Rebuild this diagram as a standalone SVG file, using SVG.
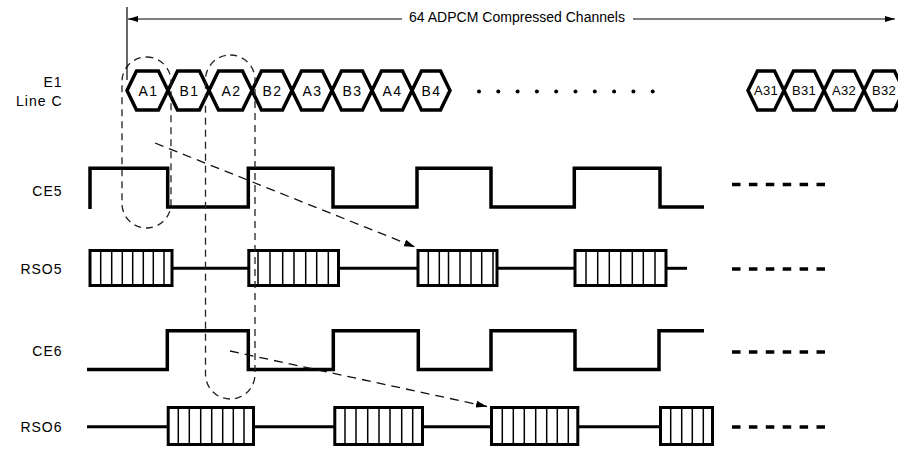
<svg xmlns="http://www.w3.org/2000/svg" width="898" height="451" viewBox="0 0 898 451">
<style>
text{font-family:"Liberation Sans",Arial,sans-serif;font-size:14px;fill:#000}
.lbl{text-anchor:end;letter-spacing:1px}
.hl{text-anchor:middle;letter-spacing:1.5px}
.hl3{text-anchor:middle;letter-spacing:0.3px;font-size:13px}
.hex{fill:none;stroke:#000;stroke-width:3.5}
.wave{fill:none;stroke:#000;stroke-width:3.5}
.box{fill:none;stroke:#000;stroke-width:3}
.cell{stroke:#000;stroke-width:1.5}
.seg{stroke:#000;stroke-width:3}
.cont{stroke:#000;stroke-width:3.5;stroke-dasharray:8.5 8.4}
.thin{stroke:#000;stroke-width:1.2;fill:none}
.dash{fill:none;stroke:#222;stroke-width:1.3;stroke-dasharray:7 5}
.darr{fill:none;stroke:#111;stroke-width:1.3;stroke-dasharray:9 6}
</style>
<defs>
<marker id="ah" viewBox="0 0 10 6" refX="10" refY="3" markerWidth="10" markerHeight="6" orient="auto" markerUnits="userSpaceOnUse"><path d="M0,0 L10,3 L0,6 Z" fill="#000"/></marker>
<marker id="dah" viewBox="0 0 11 7" refX="11" refY="3.5" markerWidth="11" markerHeight="7" orient="auto" markerUnits="userSpaceOnUse"><path d="M0,0 L11,3.5 L0,7 Z" fill="#000"/></marker>
</defs>
<rect width="898" height="451" fill="#fff"/>

<g id="labels">
<text class="lbl" x="62.5" y="87">E1</text>
<text class="lbl" x="62.5" y="105.5">Line C</text>
<text class="lbl" x="62.5" y="195.5">CE5</text>
<text class="lbl" x="62.5" y="274">RSO5</text>
<text class="lbl" x="62.5" y="356">CE6</text>
<text class="lbl" x="62.5" y="431.5">RSO6</text>
</g>

<g id="e1-line-c">
<g id="hex-A1"><polygon class="hex" points="127,90.5 136.5,71 158.5,71 168,90.5 158.5,110 136.5,110"/><text class="hl" x="148.5" y="95.5">A1</text></g>
<g id="hex-B1"><polygon class="hex" points="168,90.5 177.5,71 199.5,71 209,90.5 199.5,110 177.5,110"/><text class="hl" x="189.5" y="95.5">B1</text></g>
<g id="hex-A2"><polygon class="hex" points="209,90.5 218.5,71 242.5,71 252,90.5 242.5,110 218.5,110"/><text class="hl" x="231.5" y="95.5">A2</text></g>
<g id="hex-B2"><polygon class="hex" points="252,90.5 261.5,71 282.5,71 292,90.5 282.5,110 261.5,110"/><text class="hl" x="272.5" y="95.5">B2</text></g>
<g id="hex-A3"><polygon class="hex" points="292,90.5 301.5,71 322.5,71 332,90.5 322.5,110 301.5,110"/><text class="hl" x="312.5" y="95.5">A3</text></g>
<g id="hex-B3"><polygon class="hex" points="332,90.5 341.5,71 362.5,71 372,90.5 362.5,110 341.5,110"/><text class="hl" x="352.5" y="95.5">B3</text></g>
<g id="hex-A4"><polygon class="hex" points="372,90.5 381.5,71 402.5,71 412,90.5 402.5,110 381.5,110"/><text class="hl" x="392.5" y="95.5">A4</text></g>
<g id="hex-B4"><polygon class="hex" points="412,90.5 421.5,71 440.5,71 450,90.5 440.5,110 421.5,110"/><text class="hl" x="431.5" y="95.5">B4</text></g>
<g id="ellipsis-dots" fill="#000">
<circle cx="479" cy="91.5" r="2"/><circle cx="498.3" cy="91.5" r="2"/><circle cx="517.6" cy="91.5" r="2"/><circle cx="536.9" cy="91.5" r="2"/><circle cx="556.2" cy="91.5" r="2"/><circle cx="575.5" cy="91.5" r="2"/><circle cx="594.8" cy="91.5" r="2"/><circle cx="614.1" cy="91.5" r="2"/><circle cx="633.4" cy="91.5" r="2"/><circle cx="652.7" cy="91.5" r="2"/>
</g>
<g id="hex-A31"><polygon class="hex" points="748,90.5 757.5,71 774.5,71 784,90.5 774.5,110 757.5,110"/><text class="hl3" x="766" y="95">A31</text></g>
<g id="hex-B31"><polygon class="hex" points="784,90.5 793.5,71 814.5,71 824,90.5 814.5,110 793.5,110"/><text class="hl3" x="804" y="95">B31</text></g>
<g id="hex-A32"><polygon class="hex" points="824,90.5 833.5,71 854.5,71 864,90.5 854.5,110 833.5,110"/><text class="hl3" x="844" y="95">A32</text></g>
<g id="hex-B32"><polygon class="hex" points="864,90.5 873.5,71 894.5,71 904,90.5 894.5,110 873.5,110"/><text class="hl3" x="884" y="95">B32</text></g>
</g>

<g id="ce5">
<path class="wave" d="M90,209 V168.3 H167.7 V207 H248.3 V168.3 H333 V207 H417 V168.3 H491 V207 H574.3 V168.3 H660 V207 H704"/>
<line class="cont" x1="732" y1="184.5" x2="825" y2="184.5"/>
</g>

<g id="rso5">
<rect class="box" x="90" y="250.5" width="82" height="35"/>
<path class="cell" d="M100.7,250.5V285.5M111.7,250.5V285.5M122.3,250.5V285.5M132.7,250.5V285.5M143.3,250.5V285.5M153.3,250.5V285.5M164,250.5V285.5"/>
<line class="seg" x1="172" y1="268.3" x2="248.8" y2="268.3"/>
<rect class="box" x="248.8" y="250.5" width="89.7" height="35"/>
<path class="cell" d="M258,250.5V285.5M270,250.5V285.5M282.7,250.5V285.5M294,250.5V285.5M305.7,250.5V285.5M316.7,250.5V285.5M328.3,250.5V285.5"/>
<line class="seg" x1="338.5" y1="268.3" x2="418" y2="268.3"/>
<rect class="box" x="418" y="250.5" width="79" height="35"/>
<path class="cell" d="M428.3,250.5V285.5M439.3,250.5V285.5M448.5,250.5V285.5M460,250.5V285.5M471,250.5V285.5M481.7,250.5V285.5M493,250.5V285.5"/>
<line class="seg" x1="497" y1="268.3" x2="575" y2="268.3"/>
<rect class="box" x="575" y="250.5" width="91" height="35"/>
<path class="cell" d="M586,250.5V285.5M597.7,250.5V285.5M609.3,250.5V285.5M620.7,250.5V285.5M632.3,250.5V285.5M643.3,250.5V285.5M655,250.5V285.5"/>
<line class="seg" x1="666" y1="268.3" x2="687" y2="268.3"/>
<line class="cont" x1="732" y1="269" x2="825" y2="269"/>
</g>

<g id="ce6">
<path class="wave" d="M87,369.5 H167.3 V330.7 H248.3 V369.5 H333.3 V330.7 H418.3 V369.5 H491 V330.7 H575 V369.5 H659 V330.7 H704"/>
<line class="cont" x1="732" y1="352" x2="825" y2="352"/>
</g>

<g id="rso6">
<line class="seg" x1="87" y1="426.7" x2="168.2" y2="426.7"/>
<rect class="box" x="168.2" y="407.5" width="85.3" height="37"/>
<path class="cell" d="M178.3,407.5V444.5M189.3,407.5V444.5M200.7,407.5V444.5M211.7,407.5V444.5M222.7,407.5V444.5M233.3,407.5V444.5M244,407.5V444.5"/>
<line class="seg" x1="253.5" y1="426.7" x2="334.8" y2="426.7"/>
<rect class="box" x="334.8" y="407.5" width="87.7" height="37"/>
<path class="cell" d="M345,407.5V444.5M356,407.5V444.5M367.7,407.5V444.5M379,407.5V444.5M390,407.5V444.5M401.7,407.5V444.5M412.7,407.5V444.5"/>
<line class="seg" x1="422.5" y1="426.7" x2="491.5" y2="426.7"/>
<rect class="box" x="491.5" y="407.5" width="86.3" height="37"/>
<path class="cell" d="M502.3,407.5V444.5M513.3,407.5V444.5M524.3,407.5V444.5M535.7,407.5V444.5M546.7,407.5V444.5M557.3,407.5V444.5M568.3,407.5V444.5"/>
<line class="seg" x1="577.8" y1="426.7" x2="660.5" y2="426.7"/>
<rect class="box" x="660.5" y="407.5" width="52" height="37"/>
<path class="cell" d="M670.7,407.5V444.5M681.7,407.5V444.5M692.3,407.5V444.5M703.3,407.5V444.5"/>
<line class="cont" x1="732" y1="427" x2="825" y2="427"/>
</g>

<g id="groupings">
<rect class="dash" x="122" y="57" width="49" height="171" rx="24.5" ry="24.5"/>
<rect class="dash" x="205.5" y="55" width="49.5" height="344" rx="24.75" ry="24.75"/>
</g>

<g id="connectors">
<line class="thin" x1="127" y1="7" x2="127" y2="80"/>
<line class="thin" x1="402" y1="19" x2="128" y2="19" marker-end="url(#ah)"/>
<line class="thin" x1="633" y1="19" x2="895" y2="19" marker-end="url(#ah)"/>
<text x="409" y="21.5" textLength="216" lengthAdjust="spacingAndGlyphs">64 ADPCM Compressed Channels</text>
<line class="darr" x1="155" y1="143" x2="415" y2="247" marker-end="url(#dah)"/>
<line class="darr" x1="230" y1="351" x2="487" y2="406.5" marker-end="url(#dah)"/>
</g>
</svg>
